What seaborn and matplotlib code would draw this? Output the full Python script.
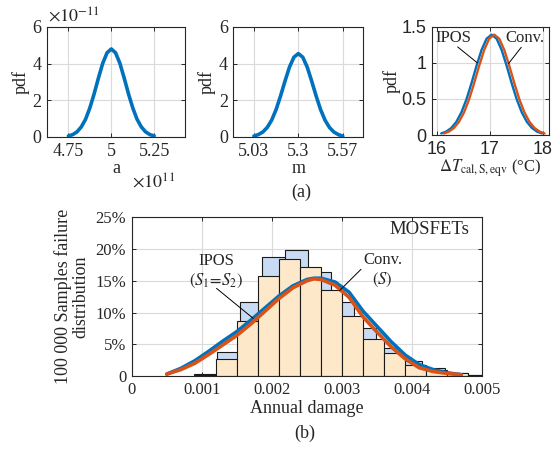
import numpy as np
import pandas as pd
import matplotlib
matplotlib.use('Agg')
import matplotlib.pyplot as plt
import seaborn as sns

sns.set_style('ticks')
plt.rcParams['font.family'] = ['Liberation Serif', 'DejaVu Serif']
plt.rcParams['mathtext.fontset'] = 'stix'

# ---- data ----
# (a) left: pdf of a  (x in 1e11, pdf in 1e-11)
a_x = [4.750, 4.775, 4.800, 4.825, 4.850, 4.875, 4.900, 4.925, 4.950, 4.975, 5.000,
       5.025, 5.050, 5.075, 5.100, 5.125, 5.150, 5.175, 5.200, 5.225, 5.250]
a_pdf = [0.06, 0.13, 0.28, 0.55, 0.97, 1.59, 2.36, 3.22, 4.02, 4.59, 4.80,
         4.59, 4.02, 3.22, 2.36, 1.59, 0.97, 0.55, 0.28, 0.13, 0.06]

# (a) middle: pdf of m
m_x = [5.030, 5.057, 5.084, 5.111, 5.138, 5.165, 5.192, 5.219, 5.246, 5.273, 5.300,
       5.327, 5.354, 5.381, 5.408, 5.435, 5.462, 5.489, 5.516, 5.543, 5.570]
m_pdf = [0.05, 0.13, 0.27, 0.52, 0.92, 1.50, 2.24, 3.05, 3.81, 4.35, 4.55,
         4.35, 3.81, 3.05, 2.24, 1.50, 0.92, 0.52, 0.27, 0.13, 0.05]

# (a) right: pdf of delta T, IPOS vs Conv.
dt_ipos_x = [16.08, 16.175, 16.27, 16.365, 16.46, 16.555, 16.65, 16.745, 16.84, 16.935, 17.03,
             17.125, 17.22, 17.315, 17.41, 17.505, 17.60, 17.695, 17.79, 17.885, 17.98]
dt_conv_x = [16.13, 16.225, 16.32, 16.415, 16.51, 16.605, 16.70, 16.795, 16.89, 16.985, 17.08,
             17.175, 17.27, 17.365, 17.46, 17.555, 17.65, 17.745, 17.84, 17.935, 18.03]
dt_pdf = [0.022, 0.048, 0.098, 0.183, 0.313, 0.493, 0.716, 0.957, 1.178, 1.334, 1.39,
          1.334, 1.178, 0.957, 0.716, 0.493, 0.313, 0.183, 0.098, 0.048, 0.022]

# (b) histograms of annual damage (% of 100 000 samples)
ipos_edges = [0.00089, 0.001215, 0.00154, 0.001865, 0.00219, 0.002515, 0.00284,
              0.003165, 0.00349, 0.003815, 0.00414, 0.004465, 0.00479, 0.005115]
ipos_pct = [0.3, 3.8, 11.6, 18.7, 19.9, 16.4, 11.6, 7.5, 4.4, 2.4, 1.2, 0.5, 0.2]
conv_edges = [0.0009, 0.0012, 0.0015, 0.0018, 0.0021, 0.0024, 0.0027, 0.0030,
              0.0033, 0.0036, 0.0039, 0.0042, 0.0045, 0.0048, 0.0051]
conv_pct = [0.15, 2.6, 8.6, 15.7, 18.5, 17.2, 13.5, 9.5, 5.8, 3.6, 1.8, 0.95, 0.5, 0.2]

# fitted distributions (b)
fit_x = [0.0005, 0.0007, 0.0009, 0.0011, 0.0013, 0.0015, 0.0017, 0.0019, 0.0021, 0.0023,
         0.0025, 0.0026, 0.0027, 0.0029, 0.0031, 0.0033, 0.0035, 0.0037, 0.0039, 0.0041,
         0.0043, 0.0045, 0.0047]
fit_ipos = [0.3, 1.2, 2.4, 3.9, 5.5, 7.0, 8.8, 10.7, 12.6, 14.2,
            15.2, 15.4, 15.4, 14.8, 13.2, 10.2, 7.8, 5.4, 3.3, 1.8,
            1.0, 0.5, 0.2]
fit_conv = [0.3, 1.0, 2.0, 3.4, 4.9, 6.4, 8.2, 10.2, 12.2, 13.9,
            15.0, 15.3, 15.2, 14.3, 12.4, 9.3, 6.9, 4.6, 2.7, 1.3,
            0.7, 0.4, 0.2]

blue = '#0072BD'
orange = '#D95319'
grid_c = '#DADADA'
ax_c = '#262626'


def style_ax(ax, fs):
    ax.grid(True, color=grid_c, lw=0.8)
    ax.set_axisbelow(True)
    ax.tick_params(direction='in', length=3, width=0.7, top=True, right=True,
                   labelsize=fs, colors=ax_c, pad=4)
    for s in ax.spines.values():
        s.set_visible(True)
        s.set_color(ax_c)
        s.set_linewidth(0.8)


fig = plt.figure(figsize=(5.59, 4.49), dpi=100)
ax1 = fig.add_axes([0.0841, 0.6949, 0.2469, 0.2450])
ax2 = fig.add_axes([0.4174, 0.6949, 0.2326, 0.2450])
ax3 = fig.add_axes([0.7723, 0.6993, 0.2104, 0.2412])
ax4 = fig.add_axes([0.2356, 0.1626, 0.6272, 0.3535])

# --- (a) a ---
sns.lineplot(x=a_x, y=a_pdf, ax=ax1, color=blue, lw=2.6, sort=False,
             solid_joinstyle='round')
ax1.set_xlim(4.625, 5.43)
ax1.set_ylim(0, 6)
ax1.set_xticks([4.75, 5, 5.25], ['4.75', '5', '5.25'])
ax1.set_yticks([0, 2, 4, 6], ['0', '2', '4', '6'])
ax1.set_xlabel('a', fontsize=13, labelpad=0)
ax1.set_ylabel('pdf', fontsize=13, labelpad=2)
style_ax(ax1, 13)
ax1.text(0.01, 1.01, r'$\times10^{-11}$', transform=ax1.transAxes, fontsize=13,
         ha='left', va='bottom', color=ax_c)
ax1.text(0.93, -0.50, r'$\times10^{11}$', transform=ax1.transAxes, fontsize=13,
         ha='right', va='bottom', color=ax_c)

# --- (a) m ---
sns.lineplot(x=m_x, y=m_pdf, ax=ax2, color=blue, lw=2.6, sort=False,
             solid_joinstyle='round')
ax2.set_xlim(4.905, 5.695)
ax2.set_ylim(0, 6)
ax2.set_xticks([5.03, 5.3, 5.57], ['5.03', '5.3', '5.57'])
ax2.set_yticks([0, 2, 4, 6], ['0', '2', '4', '6'])
ax2.set_xlabel('m', fontsize=13, labelpad=0)
ax2.set_ylabel('pdf', fontsize=13, labelpad=2)
style_ax(ax2, 13)

# --- (a) delta T ---
sns.lineplot(x=dt_ipos_x, y=dt_pdf, ax=ax3, color=blue, lw=1.7, sort=False,
             solid_joinstyle='round')
sns.lineplot(x=dt_conv_x, y=dt_pdf, ax=ax3, color=orange, lw=1.7, sort=False,
             solid_joinstyle='round')
ax3.set_xlim(15.9, 18.12)
ax3.set_ylim(0, 1.5)
ax3.set_xticks([16, 17, 18], ['16', '17', '18'])
ax3.set_yticks([0, 0.5, 1, 1.5], ['0', '0.5', '1', '1.5'])
ax3.set_xlabel(r'$\Delta T_{\mathrm{cal,S,eqv}}$ (°C)', fontsize=12, labelpad=0)
ax3.set_ylabel('pdf', fontsize=13, labelpad=0)
style_ax(ax3, 13)
for lab in ax3.get_xticklabels() + ax3.get_yticklabels():
    lab.set_family(['Liberation Sans', 'DejaVu Sans'])
ax3.text(16.30, 1.34, 'IPOS', fontsize=12, ha='center', va='center')
ax3.text(17.66, 1.34, 'Conv.', fontsize=12, ha='center', va='center')
ax3.annotate('', xy=(16.76, 1.0), xytext=(16.39, 1.22),
             arrowprops=dict(arrowstyle='-', color='black', lw=0.7, shrinkA=0, shrinkB=0))
ax3.annotate('', xy=(17.35, 0.99), xytext=(17.59, 1.215),
             arrowprops=dict(arrowstyle='-', color='black', lw=0.7, shrinkA=0, shrinkB=0))

fig.text(301 / 559, 1 - 192 / 449, '(a)', fontsize=13, ha='center', va='center')

# --- (b) histograms ---
sns.histplot(x=ipos_edges[:-1], weights=ipos_pct, bins=ipos_edges, ax=ax4,
             color='#C8DBF3', alpha=1, edgecolor='#1a1a1a', linewidth=0.8)
sns.histplot(x=conv_edges[:-1], weights=conv_pct, bins=conv_edges, ax=ax4,
             color='#FDE8CA', alpha=1, edgecolor='#1a1a1a', linewidth=0.8)
sns.lineplot(x=fit_x, y=fit_ipos, ax=ax4, color=blue, lw=2.6, sort=False,
             solid_joinstyle='round')
sns.lineplot(x=fit_x, y=fit_conv, ax=ax4, color=orange, lw=2.6, sort=False,
             solid_joinstyle='round')
ax4.set_xlim(0, 0.005)
ax4.set_ylim(0, 25)
ax4.set_xticks([0, 0.001, 0.002, 0.003, 0.004, 0.005],
               ['0', '0.001', '0.002', '0.003', '0.004', '0.005'])
ax4.set_yticks([0, 5, 10, 15, 20, 25], ['0', '5%', '10%', '15%', '20%', '25%'])
ax4.set_xlabel('Annual damage', fontsize=13, labelpad=2)
ax4.set_ylabel('100 000 Samples failure\ndistribution', fontsize=13, labelpad=4,
               linespacing=1.1)
style_ax(ax4, 12)
ax4.text(0.00482, 23.0, 'MOSFETs', fontsize=13.5, ha='right', va='center')
ax4.text(0.00120, 16.5, 'IPOS\n$(S_1\\!=\\!S_2)$', fontsize=12, ha='center', va='center',
         linespacing=1.2)
ax4.text(0.00358, 16.6, 'Conv.\n$(S)$', fontsize=12, ha='center', va='center',
         linespacing=1.2)
ax4.annotate('', xy=(0.00173, 9.1), xytext=(0.00121, 13.8),
             arrowprops=dict(arrowstyle='-', color='black', lw=0.7, shrinkA=0, shrinkB=0))
ax4.annotate('', xy=(0.00296, 13.4), xytext=(0.00327, 16.8),
             arrowprops=dict(arrowstyle='-', color='black', lw=0.7, shrinkA=0, shrinkB=0))

fig.text(305 / 559, 1 - 433 / 449, '(b)', fontsize=13, ha='center', va='center')

fig.savefig('out.png', dpi=100)
